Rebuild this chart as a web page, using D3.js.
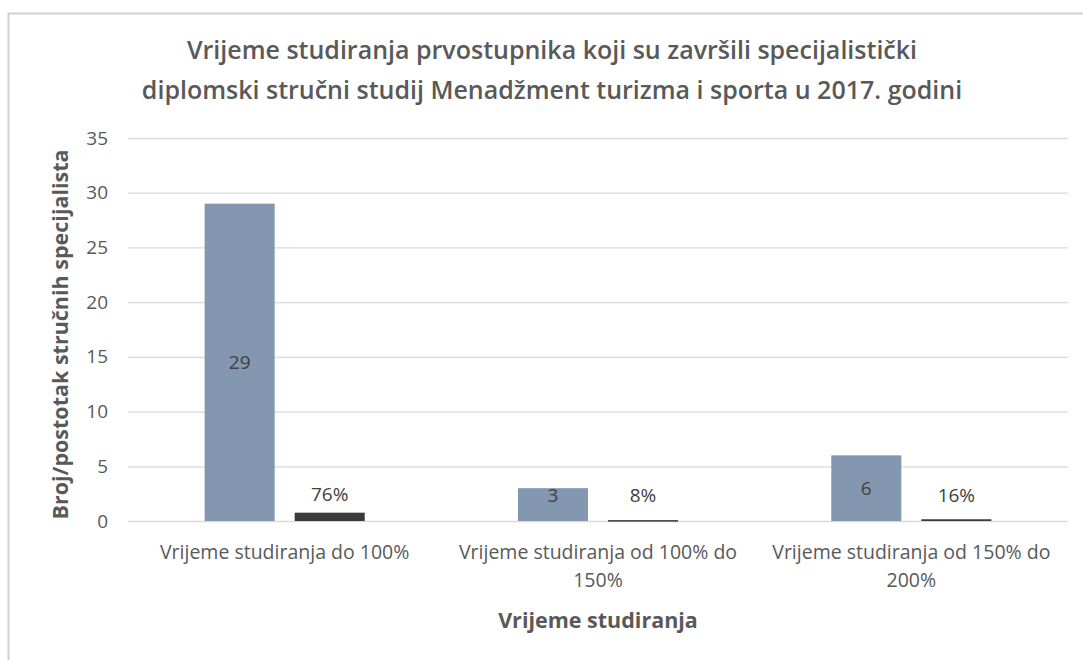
<!DOCTYPE html>
<html>
<head>
<meta charset="utf-8">
<script src="https://cdn.jsdelivr.net/npm/d3@7"></script>
<style>
  body { margin: 0; background: white; }
  text { font-family: "Open Sans", sans-serif; }
</style>
</head>
<body>
<div id="chart"></div>
<script>
// Data
const categories = [
    ['Vrijeme studiranja do 100%'],
    ['Vrijeme studiranja od 100% do', '150%'],
    ['Vrijeme studiranja od 150% do', '200%']
];
const counts = [29, 3, 6];
const shares = [0.76, 0.08, 0.16];
const shareLabels = ['76%', '8%', '16%'];
const yTicks = [0, 5, 10, 15, 20, 25, 30, 35];
const titleLines = [
    'Vrijeme studiranja prvostupnika koji su završili specijalistički',
    'diplomski stručni studij Menadžment turizma i sporta u 2017. godini'
];

let width = 1083,
    height = 660;

let margin = { top: 138, bottom: 139, left: 128, right: 15 };

let svg = d3.select('#chart')
            .append('svg')
            .attr('width', width)
            .attr('height', height)
            .style('background', 'white');

// Chart frame (only top and left edges are visible in the crop)
svg.append('path')
    .attr('d', `M8.5,${height} V13.5 H${width}`)
    .attr('fill', 'none')
    .attr('stroke', '#d0d0d0')
    .attr('stroke-width', 2);

let yScale = d3.scaleLinear()
            .domain([0, 35])
            .range([height - margin.bottom, margin.top]);

let xScale = d3.scaleBand()
            .domain(d3.range(categories.length))
            .range([margin.left, width - margin.right])
            .paddingInner(0.489)
            .paddingOuter(0.2445);

let seriesScale = d3.scaleBand()
            .domain([0, 1])
            .range([0, xScale.bandwidth()])
            .paddingInner(0.222);

// Gridlines + y tick labels
let yAxis = svg.append('g')
            .attr('transform', `translate(${margin.left},0)`)
            .call(d3.axisLeft(yScale)
                .tickValues(yTicks)
                .tickSize(-(width - margin.right - margin.left))
                .tickPadding(20));
yAxis.select('.domain').remove();
yAxis.selectAll('line').attr('stroke', '#d9d9d9').attr('stroke-width', 1.3);
yAxis.selectAll('text')
    .attr('fill', '#595959')
    .style('font-size', '19px')
    .style('font-family', '"Open Sans", sans-serif');

// Count bars
svg.selectAll('.bar-count')
    .data(counts)
    .enter().append('rect')
    .attr('class', 'bar-count')
    .attr('x', (d, i) => xScale(i) + seriesScale(0))
    .attr('y', d => yScale(d))
    .attr('width', seriesScale.bandwidth())
    .attr('height', d => yScale(0) - yScale(d))
    .attr('fill', '#8497b0');

// Share bars
svg.selectAll('.bar-share')
    .data(shares)
    .enter().append('rect')
    .attr('class', 'bar-share')
    .attr('x', (d, i) => xScale(i) + seriesScale(1))
    .attr('y', d => yScale(d))
    .attr('width', seriesScale.bandwidth())
    .attr('height', d => Math.max(1.5, yScale(0) - yScale(d)))
    .attr('fill', '#3a3a3a');

// Count labels (centered, kept readable in short bars)
svg.selectAll('.lbl-count')
    .data(counts)
    .enter().append('text')
    .attr('x', (d, i) => xScale(i) + seriesScale(0) + seriesScale.bandwidth() / 2)
    .attr('y', d => Math.min((yScale(d) + yScale(0)) / 2, yScale(0) - 26))
    .attr('dy', '0.35em')
    .attr('text-anchor', 'middle')
    .attr('fill', '#404040')
    .style('font-size', '19px')
    .text(d => d);

// Share labels (outside end)
svg.selectAll('.lbl-share')
    .data(shares)
    .enter().append('text')
    .attr('x', (d, i) => xScale(i) + seriesScale(1) + seriesScale.bandwidth() / 2)
    .attr('y', d => Math.min(yScale(d) - 18, yScale(0) - 26))
    .attr('dy', '0.35em')
    .attr('text-anchor', 'middle')
    .attr('fill', '#404040')
    .style('font-size', '19px')
    .text((d, i) => shareLabels[i]);

// Category labels
let catLabels = svg.selectAll('.cat')
    .data(categories)
    .enter().append('text')
    .attr('class', 'cat')
    .attr('text-anchor', 'middle')
    .attr('fill', '#595959')
    .style('font-size', '19.5px');
catLabels.selectAll('tspan')
    .data((d, i) => d.map(line => ({ line, i })))
    .enter().append('tspan')
    .attr('x', d => xScale(d.i) + xScale.bandwidth() / 2)
    .attr('y', (d, j) => yScale(0) + 38 + j * 28)
    .text(d => d.line);

// Title
svg.selectAll('.title')
    .data(titleLines)
    .enter().append('text')
    .attr('class', 'title')
    .attr('x', 552)
    .attr('y', (d, i) => 59 + i * 40)
    .attr('text-anchor', 'middle')
    .attr('fill', '#595959')
    .style('font-size', '25px')
    .style('font-weight', 600)
    .text(d => d);

// X-axis title
svg.append('text')
    .attr('x', (xScale(1) + xScale.bandwidth() / 2))
    .attr('y', 628)
    .attr('text-anchor', 'middle')
    .attr('fill', '#595959')
    .style('font-size', '21.5px')
    .style('font-weight', 700)
    .text('Vrijeme studiranja');

// Y-axis title
svg.append('text')
    .attr('transform', `translate(68, ${(yScale(0) + yScale(35)) / 2 + 5}) rotate(-90)`)
    .attr('text-anchor', 'middle')
    .attr('fill', '#595959')
    .style('font-size', '21.5px')
    .style('font-weight', 700)
    .text('Broj/postotak stručnih specijalista');
</script>
</body>
</html>
